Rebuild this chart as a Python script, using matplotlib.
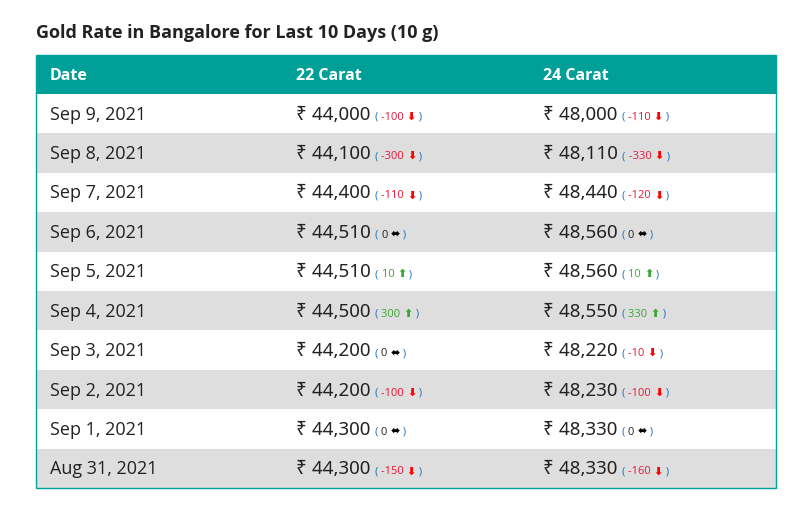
import matplotlib
matplotlib.use("Agg")
import matplotlib.pyplot as plt
from matplotlib.patches import Rectangle

dates = ["Sep 9, 2021","Sep 8, 2021","Sep 7, 2021","Sep 6, 2021","Sep 5, 2021",
         "Sep 4, 2021","Sep 3, 2021","Sep 2, 2021","Sep 1, 2021","Aug 31, 2021"]
rate22 = [44000,44100,44400,44510,44510,44500,44200,44200,44300,44300]
chg22 = [-100,-300,-110,0,10,300,0,-100,0,-150]
rate24 = [48000,48110,48440,48560,48560,48550,48220,48230,48330,48330]
chg24 = [-110,-330,-120,0,10,330,-10,-100,0,-160]
headers = ["Date","22 Carat","24 Carat"]
title = "Gold Rate in Bangalore for Last 10 Days (10 g)"

W, H = 796, 514
fig = plt.figure(figsize=(W/100, H/100), dpi=100)
ax = fig.add_axes([0,0,1,1])
ax.set_xlim(0, W); ax.set_ylim(H, 0); ax.axis("off")
FONT = ["Open Sans", "DejaVu Sans"]
TEAL = "#009f98"

ax.text(36, 33, title, fontsize=13, fontweight="bold", family=FONT, va="center", color="#222222")
x0, x1, ytop, hh, rh = 36, 776, 55, 39, 39.4
ax.add_patch(Rectangle((x0, ytop), x1-x0, hh, color=TEAL, lw=0))
colx = [50, 296, 543]
for cx, h in zip(colx, headers):
    ax.text(cx, ytop+hh/2+1, h, fontsize=11.5, fontweight="bold", family=FONT, color="white", va="center")
for i in range(len(dates)):
    y = ytop + hh + i*rh
    ax.add_patch(Rectangle((x0, y), x1-x0, rh, color="#dedede" if i % 2 else "white", lw=0))
ax.add_patch(Rectangle((x0, ytop), x1-x0, hh+rh*len(dates), fill=False, ec=TEAL, lw=1))

fig.canvas.draw()
r = fig.canvas.get_renderer()
inv = ax.transData.inverted()

def seq(x, y, parts):
    for s, kw in parts:
        t = ax.text(x, y, s, va="baseline", **kw)
        bb = t.get_window_extent(r)
        x = inv.transform((bb.x1, bb.y0))[0]

def cell(x, y, rate, chg):
    if chg < 0:
        col, arr = "#e8173a", ("\u2b07", "#ff0000")
    elif chg > 0:
        col, arr = "#3aa832", ("\u2b06", "#3aa832")
    else:
        col, arr = "#222222", ("\u2b0c", "#000000")
    big = dict(fontsize=13.5, family=["Noto Sans", "DejaVu Sans"], color="#222222")
    sm = dict(fontsize=8, family=FONT)
    seq(x, y, [("\u20b9 ", big), (f"{rate:,} ", big),
               ("( ", dict(sm, color="#1e73be")), (f"{chg} ", dict(sm, color=col)),
               (arr[0], dict(fontsize=8, family="DejaVu Sans", color=arr[1], fontweight="bold")),
               (" )", dict(sm, color="#1e73be"))])

for i in range(len(dates)):
    yb = ytop + hh + i*rh + rh/2 + 6
    ax.text(colx[0], yb, dates[i], fontsize=13, family=FONT, color="#222222", va="baseline")
    cell(colx[1], yb, rate22[i], chg22[i])
    cell(colx[2], yb, rate24[i], chg24[i])

fig.savefig("out.png", dpi=100)
